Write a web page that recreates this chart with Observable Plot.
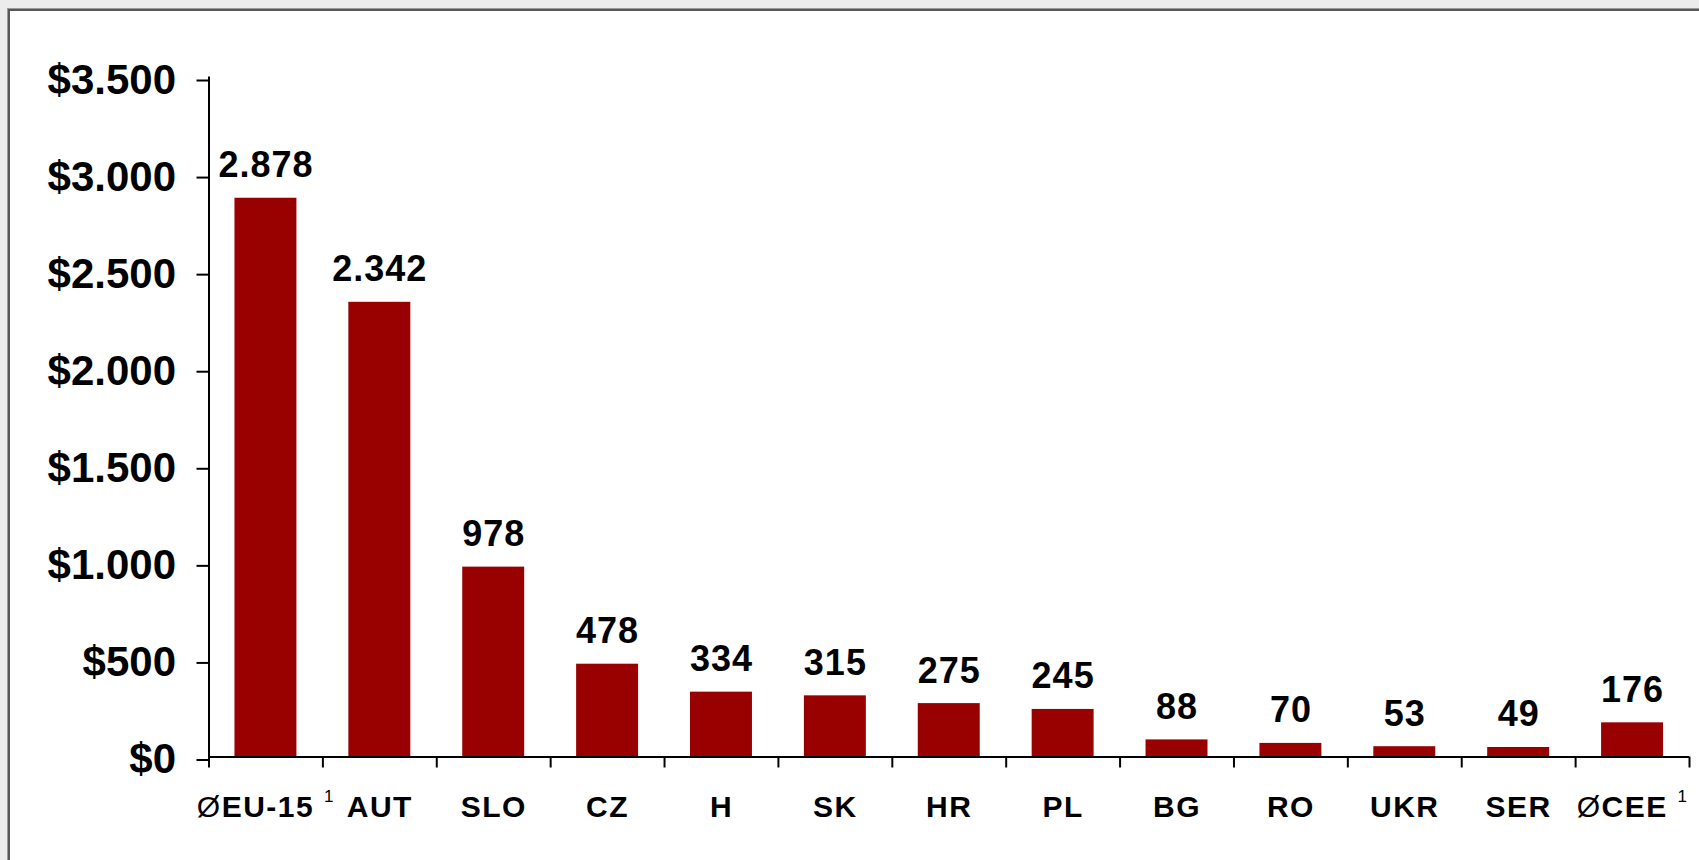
<!DOCTYPE html>
<html>
<head>
<meta charset="utf-8">
<script src="https://cdn.jsdelivr.net/npm/d3@7"></script>
<script src="https://cdn.jsdelivr.net/npm/@observablehq/plot@0.6"></script>
<style>
html, body { margin: 0; padding: 0; background: #ececec; width: 1699px; height: 860px; overflow: hidden; }
#panel { position: absolute; left: 8px; top: 9px; width: 1720px; height: 880px; background: #fff;
  border-left: 2px solid #585858; border-top: 2px solid #585858; box-shadow: -1px -1px 0 #9a9a9a; }
#chart { position: absolute; left: 0; top: 0; }
</style>
</head>
<body>
<div id="panel"></div>
<div id="chart"></div>
<script>
const countries = ["ØEU-15 ¹", "AUT", "SLO", "CZ", "H", "SK", "HR", "PL", "BG", "RO", "UKR", "SER", "ØCEE ¹"];
const values = [2878, 2342, 978, 478, 334, 315, 275, 245, 88, 70, 53, 49, 176];
const yTicks = [0, 500, 1000, 1500, 2000, 2500, 3000, 3500];

const data = countries.map((c, i) => ({country: c, value: values[i]}));

const locale = d3.formatLocale({decimal: ",", thousands: ".", grouping: [3], currency: ["$", ""]});
const fmt = locale.format(",");
const fmtY = locale.format("$,");

const W = 1699, H = 860;
const mL = 208.5, mR = 10, mT = 77, mB = 103.5;
const step = (W - mL - mR) / countries.length;
const font = "'Liberation Sans', Arial, sans-serif";

const chart = Plot.plot({
  width: W,
  height: H,
  marginLeft: mL,
  marginRight: mR,
  marginTop: mT,
  marginBottom: mB,
  style: {fontFamily: font, background: "transparent", color: "#000", overflow: "visible"},
  x: {domain: countries, paddingInner: 0.456, paddingOuter: 0.228, round: false},
  y: {domain: [0, 3500]},
  marks: [
    Plot.barY(data, {x: "country", y: "value", fill: "#990000"}),
    Plot.text(data, {x: "country", y: "value", text: d => fmt(d.value), lineAnchor: "bottom", dy: -21,
      fontSize: 36, fontWeight: "bold", fill: "#000"}),
    Plot.frame({anchor: "left", stroke: "#000", strokeWidth: 2}),
    Plot.ruleY([0], {stroke: "#000", strokeWidth: 2}),
    Plot.axisY({ticks: yTicks, tickSize: 12, tickPadding: 21, tickFormat: fmtY, label: null,
      fontSize: 42, fontWeight: "bold", strokeWidth: 2, dy: 3}),
    Plot.axisX({ticks: countries, tickSize: 11, fill: "none", label: null, strokeWidth: 2, dx: -step / 2}),
    Plot.axisX({ticks: [countries[countries.length - 1]], tickSize: 11, fill: "none", label: null, strokeWidth: 2, dx: step / 2}),
    Plot.axisX({ticks: countries, tickSize: 0, tickPadding: 39, label: null, fontSize: 30, fontWeight: "bold"})
  ]
});

// letter spacing similar to the original rendering
chart.querySelectorAll('g[aria-label="text"]').forEach(g => g.setAttribute("letter-spacing", "1"));
chart.querySelectorAll('g[aria-label="x-axis tick label"]').forEach(g => g.setAttribute("letter-spacing", "1.5"));

// diameter sign in regular weight, footnote "1" as a small superscript
chart.querySelectorAll('g[aria-label="x-axis tick label"] text').forEach(t => {
  const s = t.textContent;
  if (!s.includes("Ø")) return;
  const core = s.replace("Ø", "").replace("¹", "").trim();
  while (t.firstChild) t.removeChild(t.firstChild);
  const ns = "http://www.w3.org/2000/svg";
  const a = document.createElementNS(ns, "tspan");
  a.setAttribute("font-weight", "normal");
  a.textContent = "Ø";
  const b = document.createElementNS(ns, "tspan");
  b.textContent = core + " ";
  const c = document.createElementNS(ns, "tspan");
  c.setAttribute("font-weight", "normal");
  c.setAttribute("font-size", "17");
  c.setAttribute("dy", "-15");
  c.textContent = "1";
  t.append(a, b, c);
});

document.getElementById("chart").appendChild(chart);
</script>
</body>
</html>
